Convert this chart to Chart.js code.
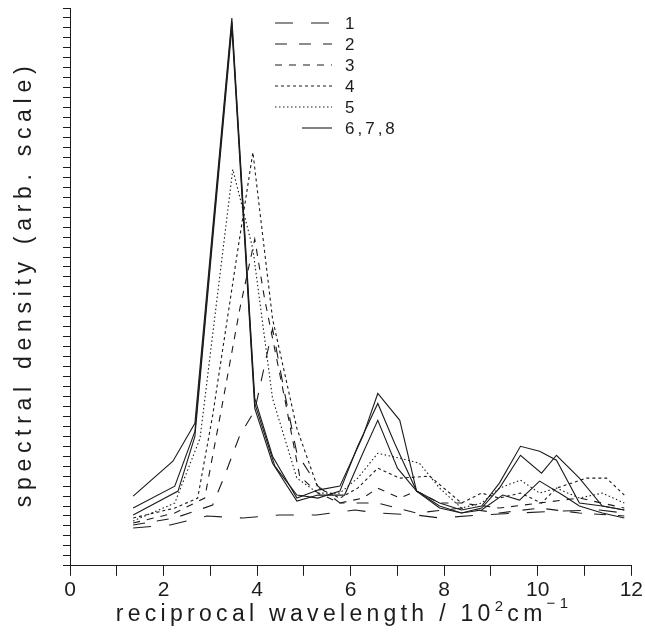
<!DOCTYPE html>
<html>
<head>
<meta charset="utf-8">
<script src="https://cdn.jsdelivr.net/npm/chart.js@4.4.0/dist/chart.umd.min.js"></script>
<style>
  html, body { margin: 0; padding: 0; background: #fff; }
</style>
</head>
<body>
<canvas id="myChart" width="645" height="634"></canvas>
<script>
// tick labels (x every 1, label every 2)
var xTickLabels = [0, 2, 4, 6, 8, 10, 12];
var legendLabels = ['1', '2', '3', '4', '5', '6,7,8'];

// series 1 - long dash, almost flat
var s1X = [1.35, 2.14, 2.93, 3.69, 4.48, 5.27, 6.09, 6.58, 7.41, 7.90, 8.76, 9.61, 10.46, 11.32, 11.85];
var s1Y = [3.8, 4.1, 5.0, 4.8, 5.1, 5.1, 5.6, 5.3, 5.1, 4.8, 5.1, 5.3, 5.5, 5.6, 5.3];

// series 2
var s2X = [1.35, 2.24, 3.05, 3.31, 3.63, 3.95, 4.33, 4.59, 4.85, 5.30, 5.77, 6.58, 7.41, 8.37, 9.18, 10.04, 10.89, 11.85];
var s2Y = [4.1, 4.8, 6.1, 9.1, 13.1, 15.6, 23.8, 17.3, 11.3, 8.0, 6.3, 6.3, 5.3, 5.8, 5.3, 5.8, 5.3, 5.0];

// series 3
var s3X = [1.35, 2.24, 2.88, 3.24, 3.63, 3.95, 4.16, 4.59, 4.91, 5.30, 5.77, 6.26, 6.58, 7.05, 7.41, 7.90, 8.37, 9.18, 10.04, 10.89, 11.85];
var s3Y = [4.3, 5.3, 6.8, 15.8, 25.8, 32.8, 26.8, 16.8, 9.0, 7.3, 6.3, 6.8, 7.8, 6.8, 7.5, 6.3, 6.3, 5.8, 6.3, 6.8, 5.8];

// series 4
var s4X = [1.35, 2.24, 2.73, 3.05, 3.59, 3.91, 4.33, 4.85, 5.30, 5.77, 6.15, 6.58, 7.05, 7.69, 8.37, 8.80, 9.18, 9.63, 10.08, 10.40, 11.04, 11.47, 11.85];
var s4Y = [4.8, 5.8, 6.8, 15.1, 31.8, 41.5, 24.8, 13.8, 7.8, 6.8, 7.8, 9.8, 8.8, 9.0, 6.3, 7.3, 6.8, 7.3, 6.3, 7.8, 8.8, 8.8, 7.1];

// series 5 - dotted
var s5X = [1.35, 2.24, 2.78, 3.48, 3.91, 4.33, 4.85, 5.30, 5.77, 6.15, 6.58, 7.05, 7.47, 7.90, 8.37, 8.80, 9.18, 9.63, 10.04, 10.40, 10.89, 11.38, 11.85];
var s5Y = [4.5, 6.3, 12.8, 39.8, 31.8, 16.8, 8.8, 7.3, 7.3, 8.8, 11.3, 10.8, 10.3, 7.8, 5.8, 6.3, 7.8, 8.6, 7.3, 7.8, 6.8, 7.3, 6.3];

// series 6,7,8 - solid
var s6X = [1.35, 2.20, 2.67, 3.46, 3.95, 4.33, 4.85, 5.30, 5.77, 6.26, 6.58, 7.05, 7.41, 7.90, 8.37, 8.80, 9.18, 9.63, 10.04, 10.40, 10.89, 11.38, 11.85];
var s6Y = [7.0, 10.5, 14.3, 55.0, 16.8, 11.0, 6.8, 7.6, 8.0, 13.0, 17.3, 14.6, 7.5, 6.3, 5.6, 6.0, 8.3, 12.0, 11.5, 10.6, 6.3, 6.0, 5.6];
var s7X = [1.35, 2.24, 2.67, 3.46, 3.95, 4.38, 4.85, 5.30, 5.77, 6.15, 6.58, 6.94, 7.41, 7.90, 8.37, 8.80, 9.18, 9.63, 10.08, 10.40, 10.89, 11.38, 11.85];
var s7Y = [5.8, 8.0, 13.5, 54.6, 16.3, 10.0, 7.1, 6.8, 7.5, 12.0, 16.3, 12.3, 7.5, 6.0, 5.3, 5.8, 7.8, 11.1, 9.3, 11.1, 8.8, 6.0, 5.6];
var s8X = [1.35, 2.31, 2.67, 3.46, 3.95, 4.33, 4.85, 5.30, 5.87, 6.26, 6.58, 7.00, 7.41, 7.90, 8.37, 8.80, 9.25, 9.61, 10.04, 10.53, 10.89, 11.38, 11.85];
var s8Y = [5.1, 7.5, 13.0, 54.0, 15.8, 10.3, 6.5, 7.1, 7.1, 11.3, 14.6, 9.8, 7.5, 5.8, 5.3, 5.6, 7.1, 6.6, 8.5, 7.1, 6.0, 5.3, 4.8];

var ink = '#1c1c1c';
var fontName = '"Liberation Sans", Arial, sans-serif';

function pts(xs, ys) {
  return xs.map((x, i) => ({ x: x, y: ys[i] }));
}

function line(label, xs, ys, dash) {
  return {
    label: label,
    data: pts(xs, ys),
    borderColor: ink,
    borderWidth: 1.1,
    borderDash: dash,
    pointRadius: 0,
    tension: 0,
    fill: false
  };
}

// axis titles + legend drawn by hand (letter spaced, superscripts)
const oldStylePlugin = {
  id: 'oldStyle',
  afterDraw(chart) {
    const ctx = chart.ctx;
    ctx.save();
    ctx.fillStyle = ink;
    ctx.strokeStyle = ink;

    // x title
    var big = '23px ' + fontName, small = '15px ' + fontName;
    var pieces = [
      ['reciprocal wavelength / 10', big, 0],
      ['2', small, -10],
      ['cm', big, 0],
      ['\u22121', small, -13]
    ];
    ctx.letterSpacing = '4.3px';
    var total = 0;
    pieces.forEach(p => { ctx.font = p[1]; total += ctx.measureText(p[0]).width; });
    var x = 344 - total / 2;
    ctx.textBaseline = 'alphabetic';
    ctx.textAlign = 'left';
    pieces.forEach(p => {
      ctx.font = p[1];
      ctx.fillText(p[0], x, 621 + p[2]);
      x += ctx.measureText(p[0]).width;
    });

    // y title
    ctx.save();
    ctx.font = big;
    ctx.letterSpacing = '5.7px';
    ctx.translate(31, 284);
    ctx.rotate(-Math.PI / 2);
    ctx.textAlign = 'center';
    ctx.fillText('spectral density (arb. scale)', 0, 0);
    ctx.restore();

    // legend
    ctx.font = '17px ' + fontName;
    ctx.letterSpacing = '3px';
    ctx.textBaseline = 'middle';
    ctx.lineWidth = 1.1;
    legendLabels.forEach((lab, i) => {
      var y = 23 + i * 21;
      var ds = chart.data.datasets[i];
      ctx.setLineDash(ds.borderDash || []);
      ctx.beginPath();
      ctx.moveTo(i == 5 ? 302 : 275, y);
      ctx.lineTo(332, y);
      ctx.stroke();
      ctx.setLineDash([]);
      ctx.fillText(lab, 345, y + 1);
    });
    ctx.restore();
  }
};

const config = {
  type: 'line',
  data: {
    datasets: [
      line('1', s1X, s1Y, [18, 18]),
      line('2', s2X, s2Y, [12, 12]),
      line('3', s3X, s3Y, [7, 7]),
      line('4', s4X, s4Y, [3, 3]),
      line('5', s5X, s5Y, [1.5, 2.5]),
      line('6', s6X, s6Y, []),
      line('7', s7X, s7Y, []),
      line('8', s8X, s8Y, [])
    ]
  },
  options: {
    responsive: false,
    animation: false,
    layout: { padding: { left: 63, right: 13, top: 8, bottom: 29 } },
    plugins: {
      legend: { display: false },
      tooltip: { enabled: false }
    },
    scales: {
      x: {
        type: 'linear',
        min: 0,
        max: 12,
        ticks: {
          stepSize: 1,
          autoSkip: false,
          maxRotation: 0,
          padding: 2,
          color: ink,
          font: { family: fontName, size: 21 },
          callback: v => xTickLabels.includes(v) ? String(v) : ''
        },
        grid: { drawOnChartArea: false, tickLength: 10, color: ink, lineWidth: 1 },
        border: { color: ink, width: 1 }
      },
      y: {
        min: 0,
        max: 56,
        ticks: {
          stepSize: 1,
          autoSkip: false,
          padding: 0,
          font: { size: 4 },
          callback: () => ''
        },
        grid: { drawOnChartArea: false, tickLength: 7, color: ink, lineWidth: 1 },
        border: { color: ink, width: 1 }
      }
    }
  },
  plugins: [oldStylePlugin]
};

var chartInstance = new Chart(document.getElementById('myChart'), config);
</script>
</body>
</html>
